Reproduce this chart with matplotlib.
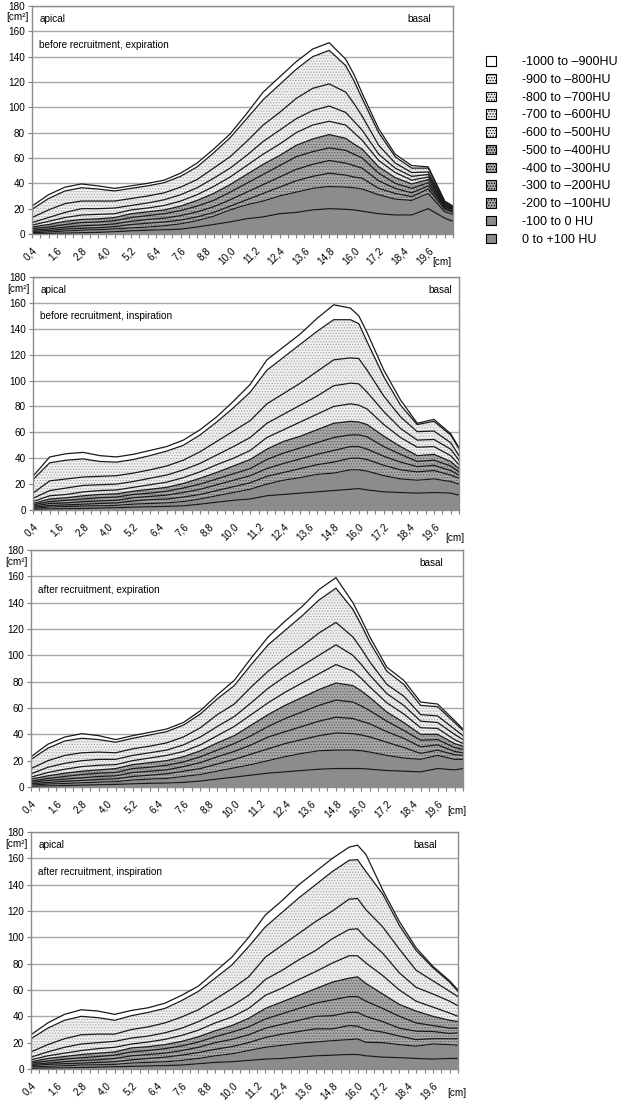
import numpy as np
import matplotlib
matplotlib.use("Agg")
import matplotlib.pyplot as plt
from matplotlib.patches import Patch

plt.rcParams['font.family'] = ['Liberation Sans', 'DejaVu Sans']
plt.rcParams['hatch.linewidth'] = 0.6

# slice position along the lung axis [cm]
cm_pos = [0.4, 1.2, 2.0, 2.8, 3.6, 4.4, 5.2, 6.0, 6.8, 7.6, 8.4, 9.2, 10.0, 10.8,
          11.6, 12.4, 13.2, 14.0, 14.8, 15.6, 16.0, 16.4, 17.2, 18.0, 18.8, 19.6,
          20.4, 20.8]

# HU classes, top of the stack first
hu_classes = ["-1000 to \u2013900HU", "-900 to \u2013800HU", "-800 to \u2013700HU",
              "-700 to \u2013600HU", "-600 to \u2013500HU", "-500 to \u2013400HU",
              "-400 to \u2013300HU", "-300 to \u2013200HU", "-200 to \u2013100HU",
              "-100 to 0 HU", "0 to +100 HU"]

# cumulative area [cm2] at each position, one row per position,
# columns = upper edge of each class from top class down to the bottom class
before_exp = [
    [22, 19.5, 13, 9, 7, 5.5, 4.2, 3, 2, 1, 0.3],
    [31, 28, 19, 13, 10, 7.5, 5.5, 4, 2.8, 1.6, 0.5],
    [37, 34, 24, 17, 13, 10, 7.5, 5.5, 4, 2.4, 0.7],
    [39.5, 36.5, 26, 20, 15, 11.5, 9, 6.5, 4.5, 3, 1],
    [38, 35.5, 26, 20, 15.5, 12, 9.5, 7, 5, 3.4, 1.3],
    [36, 34, 26, 20.5, 16, 13, 10.5, 8, 5.8, 4, 1.8],
    [38, 36, 28, 22.5, 19, 16, 13, 10, 7.5, 4.8, 2.5],
    [40, 38, 30, 24.5, 20.5, 17.5, 14.5, 11.5, 8.5, 5.5, 3],
    [42.5, 40.5, 32.5, 27, 22.5, 19, 16, 12.5, 9.5, 6.5, 3.3],
    [48, 45.5, 37, 31, 26, 22, 18.5, 14.5, 11, 8, 3.8],
    [56, 53, 43, 36.5, 31, 26.5, 22, 17.5, 13.5, 10.5, 5.5],
    [67, 64, 52, 44, 37.5, 32, 26.5, 21.5, 17, 14, 7.5],
    [79, 76, 61, 52, 45, 39, 33, 27, 22, 19, 9.5],
    [95, 91, 73, 62, 54, 47, 40, 33, 27, 23, 12],
    [112, 106, 86, 73, 63, 55, 47, 39, 32, 26, 13.5],
    [124, 118, 96, 82, 71, 62, 54, 45, 37, 30, 16],
    [136, 130, 107, 91, 80, 70, 61, 51, 42, 33, 17],
    [146, 140, 115, 97.5, 86, 75, 65, 55, 45.5, 36, 19],
    [151, 145, 118.5, 101, 89, 78.5, 68, 58, 48, 37.5, 20],
    [138, 133, 112, 96, 86, 75.5, 66, 56, 46.5, 37, 19.5],
    [126, 121, 103, 89, 80, 71, 63, 54, 45, 36.5, 19],
    [111, 107, 93, 82, 74, 67, 60, 52, 44, 35.5, 18],
    [83, 80, 70, 63, 58, 53, 48, 42, 36, 31, 16],
    [63, 61, 56, 52, 48.5, 44.5, 40, 36, 32, 27.5, 15],
    [54, 52, 48.5, 45.5, 42.5, 39.5, 36, 32.5, 29.5, 26.5, 15],
    [53, 52, 49, 47, 45, 43, 40.5, 38, 35.5, 32, 20],
    [26, 25.5, 24.5, 23.5, 23, 22, 21.5, 20.5, 19.5, 17.5, 12.5],
    [22, 21.5, 21, 20.5, 20, 19.5, 19, 18, 17, 15.5, 10],
]

before_insp = [
    [26, 23.5, 13, 9, 6.5, 5, 4, 3, 2, 1.3, 0.5],
    [41, 36.5, 22.5, 15, 11, 8.5, 6.5, 5, 3.5, 2.3, 0.8],
    [43.5, 38.5, 24, 17, 12, 9.5, 7.5, 5.5, 4, 2.7, 1],
    [44.5, 39.5, 25.5, 19, 14, 11, 8.5, 6.5, 4.5, 3, 1.2],
    [42, 37.5, 26, 19.5, 15, 12, 9.5, 7, 5, 3.3, 1.5],
    [41, 37, 26.5, 20, 15.5, 12.5, 10, 7.5, 5.5, 3.6, 1.8],
    [43, 39, 28.5, 22, 17.5, 14.5, 12, 9.5, 7, 4.5, 2.2],
    [46, 42, 31, 24.5, 19.5, 16, 13, 10.5, 8, 5, 2.5],
    [49, 45.5, 34, 27, 21.5, 17.5, 14.5, 11.5, 8.5, 5.5, 2.8],
    [54, 50, 38.5, 31, 25, 20.5, 17, 13.5, 10, 6.5, 3.2],
    [62, 58, 45, 36, 29.5, 24.5, 20, 16, 12, 8.5, 4.5],
    [72, 68, 53, 42.5, 35, 29, 24, 19.5, 15, 11, 6],
    [84, 79, 61, 49, 40, 34, 28, 23, 18, 13.5, 7.5],
    [97, 91, 69, 56, 46, 39, 32, 26.5, 21, 16, 8.5],
    [116, 108, 82, 67, 56, 47, 39, 32, 26, 20, 11],
    [126, 118, 90, 74, 62, 53, 44, 36, 29, 23, 12],
    [136, 128, 98, 81, 68, 57, 48, 39.5, 32, 25, 13],
    [148, 138, 107, 88, 74, 62, 52, 43, 35, 27.5, 14],
    [158.5, 147, 116, 96, 80, 67, 56, 46, 37, 28.5, 15],
    [156, 147, 117.5, 98, 82, 68.5, 58, 49, 40, 31, 16],
    [150, 144, 117, 97.5, 81, 68, 58, 49, 40, 31, 16.5],
    [137, 130, 108, 91, 78, 66, 56.5, 47, 39, 30, 15.5],
    [108, 103, 88, 76, 66, 57, 49, 41.5, 34.5, 26.5, 14],
    [85, 81, 72, 63, 56, 49, 43, 37, 31, 24, 13.5],
    [67, 66, 60.5, 54, 48.5, 42, 37.5, 33.5, 29.5, 23, 13],
    [70, 68.5, 61, 54.5, 49, 43, 38.5, 34.5, 30.5, 24, 13.5],
    [59, 58, 52, 47, 42, 37.5, 34, 30.5, 27, 22, 13],
    [48, 47.5, 42, 38.5, 35, 32, 29.5, 27, 24.5, 20, 11.5],
]

after_exp = [
    [23, 21, 14, 10, 7.5, 6, 4.5, 3.5, 2.5, 1.5, 0.5],
    [32.5, 29.5, 20, 15, 11, 8.5, 6.5, 5, 3.5, 2.2, 0.8],
    [38, 35, 24, 18, 13.5, 10.5, 8, 6, 4.3, 2.7, 1.1],
    [40.5, 37, 26, 20, 15.5, 12, 9.5, 7, 5, 3.2, 1.4],
    [39, 36, 26.5, 21, 16.5, 13, 10.5, 8, 5.8, 3.7, 1.7],
    [36, 34, 26, 21, 17, 14, 11, 8.5, 6.2, 4, 2],
    [39, 37, 29, 24, 20, 17, 14, 11, 8, 5.3, 2.4],
    [41.5, 39.5, 31, 26, 22, 18.5, 15, 12, 9, 6, 2.8],
    [44, 42, 33.5, 28, 24, 20, 16.5, 13, 10, 6.5, 3],
    [49, 47, 38, 32, 27, 23, 19, 15.5, 12, 8, 3.5],
    [58, 55.5, 45, 38, 32, 27.5, 23, 18.5, 14, 9.5, 4.5],
    [70, 67, 55, 46, 39, 33.5, 28, 23, 17.5, 12, 6],
    [81, 77, 63, 53.5, 46, 39, 33, 27, 21, 14.5, 7.5],
    [98, 93, 76, 64, 55, 47, 39, 32, 25, 17, 9],
    [114, 108, 88, 75, 64, 55, 46, 38, 29, 20, 10.5],
    [126, 119, 98, 84, 72, 62, 52, 42, 33, 23, 11.5],
    [137, 130, 107, 92, 79, 68, 57, 46, 36, 25.5, 12.5],
    [150, 142, 117, 100, 86, 74, 62, 50, 39, 27.5, 13.5],
    [159, 151, 125, 108, 93, 79, 66, 53, 41, 28, 14],
    [140, 135, 114, 100, 88, 77, 64.5, 52, 40.5, 28, 14],
    [127.5, 123, 105, 93, 82.5, 73, 61.5, 50, 39.5, 27.5, 14],
    [114, 110, 95, 85, 76, 68, 58, 48, 38, 26.5, 13.5],
    [91, 88, 78, 71, 64, 57, 50, 42, 34, 24, 12.5],
    [81, 78, 69, 62, 55.5, 49, 43, 37, 30, 22, 12],
    [64.5, 62, 55, 50, 45, 40, 35.5, 30.5, 25.5, 21, 11.5],
    [63, 61, 54, 49, 44.5, 40, 36, 32, 28, 24, 14],
    [50.5, 49, 44, 40, 36, 33, 30, 27, 24.5, 21, 13],
    [44, 43, 39, 36, 33, 31, 28.5, 26, 24, 21, 14],
]

after_insp = [
    [26, 23, 13, 9, 7, 5.5, 4.5, 3.5, 2.5, 1.5, 0.5],
    [35, 31, 18.5, 13, 10, 8, 6, 4.5, 3.5, 2, 0.7],
    [41.5, 37, 23, 16.5, 12, 9.5, 7.5, 5.5, 4, 2.5, 0.9],
    [45, 40, 26, 19, 14, 11, 8.5, 6.5, 4.5, 3, 1.1],
    [44, 39, 26.5, 20, 15.5, 12, 9.5, 7, 5, 3.2, 1.4],
    [41.5, 37, 26.5, 21, 16.5, 13, 10.5, 8, 5.5, 3.5, 1.7],
    [44.5, 40.5, 30, 23.5, 19, 16, 13, 10, 7, 4.5, 2],
    [46.5, 43, 32, 25, 20.5, 17, 14, 11, 8, 5, 2.3],
    [50, 46, 35, 27.5, 22.5, 18.5, 15.5, 12, 9, 5.5, 2.6],
    [56, 52, 39.5, 31, 25.5, 21, 17.5, 14, 10.5, 6.5, 3],
    [63, 59, 45, 36, 29.5, 24.5, 20.5, 16.5, 12.5, 8, 4],
    [74, 69, 53, 42, 35, 29, 24.5, 20, 15, 10, 5],
    [85, 79, 61, 48, 39.5, 33, 28, 22.5, 17, 11.5, 5.5],
    [100, 93, 70, 56, 46, 38.5, 32, 26, 20, 14, 6.5],
    [117, 108, 85, 68, 56, 46, 38, 31, 24, 16.5, 7.5],
    [128, 119, 94, 75, 61.5, 51, 42, 34, 26.5, 18, 8],
    [140, 130, 103, 83, 68, 56, 46, 37, 28.5, 19.5, 9],
    [150, 140, 112, 90, 74, 61, 50, 40, 30.5, 20.5, 10],
    [160, 150, 120, 99, 80.5, 66, 52.5, 40.5, 30.5, 21.5, 10.5],
    [168.5, 158.5, 129, 106, 86, 69, 55, 43, 33, 22.3, 11],
    [170, 159, 129.5, 106.5, 86, 70, 55, 43, 32.5, 22.8, 11],
    [163, 150, 121, 99.5, 80.5, 65, 51.5, 40, 30, 20.3, 10],
    [136, 133, 108, 88, 71, 57, 46, 36, 28, 20, 9],
    [112, 109, 91, 73, 60, 49, 40, 31, 25, 18.5, 8.6],
    [92, 90, 75, 62, 51.5, 44, 35, 28.7, 22.3, 17.3, 8],
    [78, 77, 67, 57, 47, 40, 33, 28.5, 23, 19, 7.5],
    [67, 66, 59, 51.5, 42.5, 37, 31, 27, 23, 18.5, 8],
    [60, 59, 55, 48, 40, 36, 31, 27.5, 23, 18, 8],
]

titles = ["before recruitment, expiration", "before recruitment, inspiration",
          "after recruitment, expiration", "after recruitment, inspiration"]

# fill style per class, bottom class first: (face, hatch, hatch colour)
solid = ('#8c8c8c', None, '#8c8c8c')
dark = ('#a9a9a9', '......', '#5e5e5e')
light = ('#f0f0f0', '......', '#a8a8a8')
white = ('white', None, 'white')
styles = [solid, solid, dark, dark, dark, dark, light, light, light, light, white]

W, H = 619, 1105
fig = plt.figure(figsize=(W / 100, H / 100), dpi=100)

# axes boxes in pixels: left, top, right, bottom
boxes = [(32, 6, 453, 234), (33, 277, 459, 510), (31, 550, 463, 787), (31, 832, 458, 1069)]
basal_pad = [-22, -7, -20, -21]
cm_off = [(-21, -28), (-14, -28), (-16, -24), (-11, -24)]
show_apical = [True, True, False, True]

x = np.array(cm_pos)
tick_pos = np.round(np.arange(0.4, 20.85, 0.4), 1)
tick_lab = [f"{t:.1f}".replace('.', ',') if (i % 3 == 0 and i <= 48) else ''
            for i, t in enumerate(tick_pos)]

for k, rows in enumerate([before_exp, before_insp, after_exp, after_insp]):
    l, t, r, b = boxes[k]
    ax = fig.add_axes([l / W, 1 - b / H, (r - l) / W, (b - t) / H])
    tops = np.array(rows, dtype=float).T[::-1]
    lower = np.zeros_like(x)
    for j, upper in enumerate(tops):
        face, hatch, hc = styles[j]
        ax.fill_between(x, lower, upper, facecolor=face, hatch=hatch,
                        edgecolor=hc, linewidth=0, zorder=1)
        lower = upper
    for upper in tops:
        ax.plot(x, upper, color='#1a1a1a', lw=0.9, zorder=2)

    ax.set_xlim(0.4, 20.8)
    ax.set_ylim(0, 180)
    ax.set_yticks(range(0, 181, 20))
    ax.set_xticks(tick_pos)
    ax.set_xticklabels(tick_lab)
    ax.set_axisbelow(True)
    ax.yaxis.grid(True, color='#a8a8a8', lw=1)
    ax.tick_params(axis='both', length=3, width=0.8, color='#808080',
                   labelsize=7.2, direction='out', pad=2)
    ax.tick_params(axis='x', pad=5)
    for lab in ax.get_xticklabels():
        lab.set_rotation(45)
        lab.set_ha('right')
        lab.set_va('top')
        lab.set_rotation_mode('anchor')
    for s in ax.spines.values():
        s.set_color('#8c8c8c')
        s.set_linewidth(1)

    if show_apical[k]:
        ax.annotate('apical', xy=(0, 170), xycoords=('axes fraction', 'data'),
                    xytext=(8, 0), textcoords='offset pixels', va='center', fontsize=7.2)
    ax.annotate(titles[k], xy=(0, 149.5), xycoords=('axes fraction', 'data'),
                xytext=(7, 0), textcoords='offset pixels', va='center', fontsize=7.2)
    ax.annotate('basal', xy=(1, 170), xycoords=('axes fraction', 'data'),
                xytext=(basal_pad[k], 0), textcoords='offset pixels',
                ha='right', va='center', fontsize=7.2)
    ax.annotate('[cm\u00b2]', xy=(0, 171), xycoords=('axes fraction', 'data'),
                xytext=(-3, 0), textcoords='offset pixels', ha='right', va='center',
                fontsize=7.2)
    ax.annotate('[cm]', xy=(1, 0), xycoords='axes fraction', xytext=cm_off[k],
                textcoords='offset pixels', ha='left', va='center', fontsize=7.2)

# legend, top class first
handles = []
for j in range(len(hu_classes)):
    face, hatch, hc = styles[::-1][j]
    handles.append(Patch(facecolor=face, hatch=hatch, edgecolor='black', linewidth=0.8))
fig.legend(handles, hu_classes, loc='upper left',
           bbox_to_anchor=(486 / W, 1 - 56 / H), frameon=False, fontsize=9,
           handlelength=0.8, handleheight=0.8, handletextpad=2.1,
           labelspacing=0.45, borderpad=0, borderaxespad=0)

fig.savefig('out.png', dpi=100)
